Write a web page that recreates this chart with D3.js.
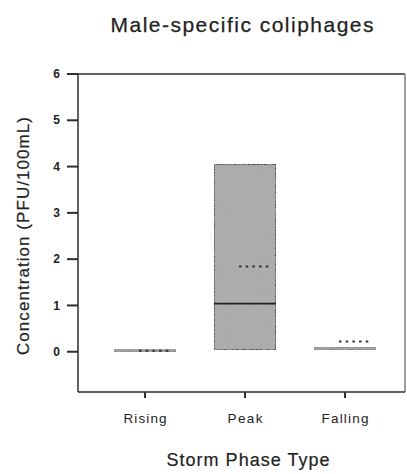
<!DOCTYPE html>
<html>
<head>
<meta charset="utf-8">
<script src="https://cdn.jsdelivr.net/npm/d3@7/dist/d3.min.js"></script>
<style>
  html, body { margin: 0; padding: 0; background: #fff; }
  svg { display: block; font-family: "Liberation Sans", Arial, sans-serif; }
</style>
</head>
<body>
<svg id="chart" width="407" height="474"></svg>
<script>
// Storm phase categories and box statistics (PFU/100mL)
const phases = ["Rising", "Peak", "Falling"];
const q1 = [0.0, 0.04, 0.05];
const median = [0.02, 1.04, 0.08];
const q3 = [0.04, 4.05, 0.10];
const mean = [0.02, 1.84, 0.22];
const yTicks = [0, 1, 2, 3, 4, 5, 6];

const svg = d3.select("#chart");
const ink = "#2e2e2e";

const plotL = 78, plotR = 405, plotT = 74, plotB = 392;

const y = d3.scaleLinear().domain([-0.87, 6]).range([plotB, plotT]);
const x = d3.scalePoint().domain(phases).range([145, 345]);
const boxW = 62;

// stippled grey fill for the boxes
const defs = svg.append("defs");
const f = defs.append("filter").attr("id", "grain").attr("x", 0).attr("y", 0).attr("width", 1).attr("height", 1);
f.append("feTurbulence").attr("type", "fractalNoise").attr("baseFrequency", 0.85).attr("numOctaves", 2).attr("seed", 7).attr("result", "noise");
f.append("feColorMatrix").attr("in", "noise").attr("type", "matrix")
  .attr("values", "0 0 0 0 0.45  0 0 0 0 0.45  0 0 0 0 0.45  1.6 0 0 0 -0.45").attr("result", "speck");
f.append("feComposite").attr("in", "speck").attr("in2", "SourceGraphic").attr("operator", "in").attr("result", "clipped");
f.append("feMerge").selectAll("feMergeNode").data(["SourceGraphic", "clipped"]).join("feMergeNode").attr("in", d => d);

// frame: top and right edges
svg.append("path").attr("d", `M${plotL},${y(6)}H${plotR}`)
  .attr("stroke", ink).attr("stroke-width", 1.6).attr("fill", "none");
svg.append("path").attr("d", `M${plotR},${plotT}V${plotB}`)
  .attr("stroke", "#777").attr("stroke-width", 1.4).attr("fill", "none");

// y axis line, ticks and labels
svg.append("path").attr("d", `M${plotL},${plotB}V${plotT}`)
  .attr("stroke", ink).attr("stroke-width", 1.5).attr("fill", "none");
svg.append("g").selectAll("rect").data(yTicks).join("rect")
  .attr("x", plotL - 11).attr("y", d => y(d) - 1).attr("width", 11).attr("height", 2)
  .attr("fill", ink);
svg.append("g").selectAll("text").data(yTicks).join("text")
  .attr("x", plotL - 18).attr("y", d => y(d)).attr("dy", "0.35em")
  .attr("text-anchor", "end").attr("font-size", 12).attr("font-weight", "bold").attr("fill", "#222")
  .text(d3.format("d"));

// x axis line, ticks and labels
svg.append("path").attr("d", `M${plotL},${plotB}H${plotR}`)
  .attr("stroke", ink).attr("stroke-width", 1.6).attr("fill", "none");
svg.append("g").selectAll("rect").data(phases).join("rect")
  .attr("x", d => x(d) - 1).attr("y", plotB).attr("width", 2).attr("height", 6)
  .attr("fill", ink);
svg.append("g").selectAll("text").data(phases).join("text")
  .attr("x", d => x(d)).attr("y", plotB + 31)
  .attr("text-anchor", "middle").attr("font-size", 13.5).attr("fill", "#222")
  .attr("textLength", d => ({ Rising: 43, Peak: 35, Falling: 47 })[d]).attr("lengthAdjust", "spacing")
  .text(d => d);

// boxes
const rows = phases.map((p, i) => ({ p, q1: q1[i], med: median[i], q3: q3[i], mean: mean[i] }));
const g = svg.append("g");
g.selectAll("rect.box").data(rows).join("rect").attr("class", "box")
  .attr("x", d => x(d.p) - boxW / 2)
  .attr("width", boxW)
  .attr("y", d => y(d.q3))
  .attr("height", d => Math.max(1.5, y(d.q1) - y(d.q3)))
  .attr("fill", "#a9a9a9")
  .attr("filter", "url(#grain)")
  .attr("stroke", d => d.q3 - d.q1 > 0.5 ? "#333" : "#7a7a7a")
  .attr("stroke-width", d => d.q3 - d.q1 > 0.5 ? 1.6 : 1.2);

// median lines
g.selectAll("line.med").data(rows.filter(d => d.q3 - d.q1 > 0.5)).join("line").attr("class", "med")
  .attr("x1", d => x(d.p) - boxW / 2).attr("x2", d => x(d.p) + boxW / 2)
  .attr("y1", d => y(d.med)).attr("y2", d => y(d.med))
  .attr("stroke", "#222").attr("stroke-width", 1.8);

// mean lines (dotted)
g.selectAll("line.mean").data(rows).join("line").attr("class", "mean")
  .attr("x1", d => x(d.p) - 6).attr("x2", d => x(d.p) + 24)
  .attr("y1", d => y(d.mean)).attr("y2", d => y(d.mean))
  .attr("stroke", "#333").attr("stroke-width", 2).attr("stroke-dasharray", "2.5,4.2");

// titles
svg.append("text").attr("x", 242).attr("y", 32).attr("text-anchor", "middle")
  .attr("font-size", 21).attr("fill", "#222").attr("stroke", "#222").attr("stroke-width", 0.25)
  .attr("textLength", 263).attr("lengthAdjust", "spacing")
  .text("Male-specific coliphages");

svg.append("text").attr("x", 248).attr("y", 466).attr("text-anchor", "middle")
  .attr("font-size", 18).attr("fill", "#222").attr("stroke", "#222").attr("stroke-width", 0.2)
  .attr("textLength", 163).attr("lengthAdjust", "spacing")
  .text("Storm Phase Type");

svg.append("text").attr("transform", "translate(29,236) rotate(-90)").attr("text-anchor", "middle")
  .attr("font-size", 17).attr("fill", "#222").attr("stroke", "#222").attr("stroke-width", 0.2)
  .attr("textLength", 238).attr("lengthAdjust", "spacing")
  .text("Concentration (PFU/100mL)");
</script>
</body>
</html>
